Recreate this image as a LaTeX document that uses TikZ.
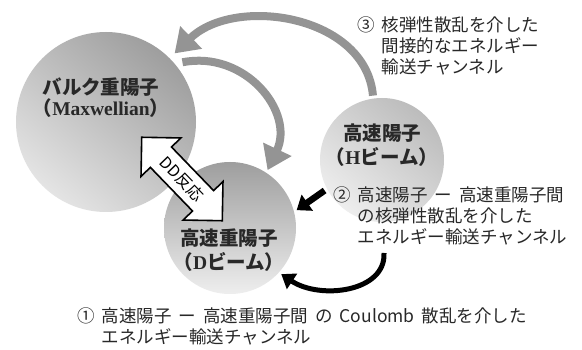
\documentclass[tikz,border=0pt]{standalone}
\usepackage{fontspec}
\newfontfamily\jp{Noto Sans CJK JP}
\newfontfamily\tms{Liberation Serif}
\usetikzlibrary{arrows.meta,shapes.arrows}
\definecolor{arrgray}{RGB}{148,148,148}
\definecolor{txt}{RGB}{40,40,40}
\newcommand{\gsp}{\hspace{7pt}}
\begin{document}
\begin{tikzpicture}[x=1pt,y=-1pt,
  ball/.style={circle, inner sep=0pt},
  lbl/.style={font=\jp\bfseries\fontsize{19.5}{21}\selectfont, align=center, text=txt, inner sep=0pt},
  note/.style={font=\jp\fontsize{17.5}{21.2}\selectfont, align=left, text=txt, inner sep=0pt, anchor=north west},
  grayarrow/.style={draw=arrgray, line width=8pt, -{Triangle[width=30pt,length=23pt]}},
  blackarrow/.style={draw=black, line width=6.5pt, -{Triangle[width=19pt,length=13pt]}},
  thinblack/.style={draw=black, line width=5pt, -{Triangle[width=18pt,length=13pt]}},
  ddarrow/.style={double arrow, draw=black, fill=white, line width=1.6pt, double arrow head extend=13pt, minimum height=116pt, inner xsep=0pt, inner ysep=6.5pt, font=\jp\fontsize{16}{16}\selectfont}
]
\useasboundingbox (0,0) rectangle (582,350);
\fill[white] (0,0) rectangle (582,350);
% circles
\node[ball, minimum size=124pt, outer sep=3pt, top color={rgb,255:red,188;green,188;blue,188}, bottom color={rgb,255:red,238;green,238;blue,238}, shading angle=-40] (H) at (382,160) {};
\node[ball, minimum size=180pt, outer sep=7pt, top color={rgb,255:red,158;green,158;blue,158}, bottom color={rgb,255:red,228;green,228;blue,228}, shading angle=-40] (bulk) at (106,122) {};
\node[ball, minimum size=132pt, outer sep=3pt, top color={rgb,255:red,158;green,158;blue,158}, bottom color={rgb,255:red,238;green,238;blue,238}] (D) at (230,228) {};
% circle labels
\node[lbl] (bulkl) at (101,98) {バルク重陽子\\（{\tms\bfseries Maxwellian}）};
\node[lbl] (Hl) at (382,145) {高速陽子\\[3pt]（{\tms\bfseries H}ビーム）};
\node[lbl] (Dl) at (229,250) {高速重陽子\\[3pt]（{\tms\bfseries D}ビーム）};
% DD reaction arrow
\node[ddarrow, rotate=-46] (dd) at (182,179) {DD反応};
% gray arrows
\draw[grayarrow] (H.98) .. controls (366,15) and (235,-5) .. (bulk.45);
\draw[grayarrow] (bulk.38) .. controls (245,50) and (295,112) .. (D.57);
% black arrows
\draw[blackarrow] (H.208) -- (D.15);
\coordinate (c1) at (384,253);
\draw[thinblack] (c1) .. controls (386,292) and (320,300) .. (D.-42);
% notes
\node[note] (n3) at (357,16) {③\gsp 核弾性散乱を介した\\\hphantom{③\gsp}間接的なエネルギー\\\hphantom{③\gsp}輸送チャンネル};
\node[note] (n2) at (333,186) {②\gsp 高速陽子\gsp ー\gsp 高速重陽子間\\\hphantom{②\gsp}の核弾性散乱を介した\\\hphantom{②\gsp}エネルギー輸送チャンネル};
\node[note] (n1) at (77,307) {①\gsp 高速陽子\gsp ー\gsp 高速重陽子間\gsp の\gsp Coulomb\gsp 散乱を介した\\\hphantom{①\gsp}エネルギー輸送チャンネル};
\end{tikzpicture}
\end{document}
